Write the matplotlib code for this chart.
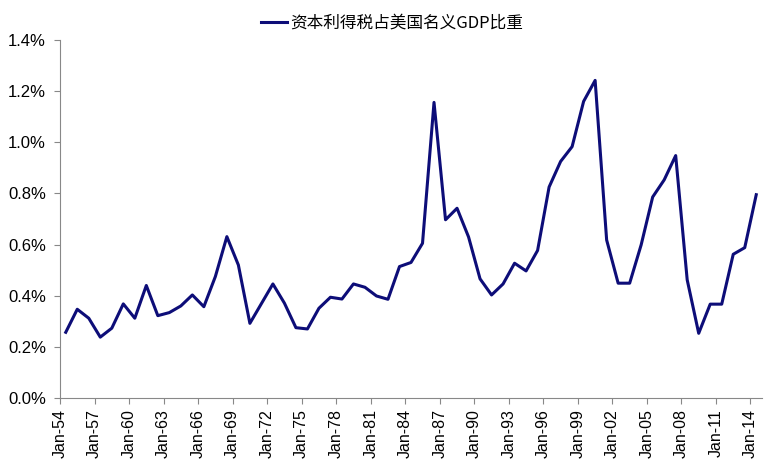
import numpy as np
import matplotlib.pyplot as plt
import matplotlib.ticker as mticker

plt.rcParams['font.family'] = ['Liberation Sans', 'Noto Sans CJK SC', 'DejaVu Sans']

# 年份 1954-2014 (数据点在年中)
years = np.arange(1954, 2015)
values = [0.257, 0.347, 0.312, 0.238, 0.273, 0.368, 0.312, 0.440, 0.322, 0.334,
          0.360, 0.403, 0.357, 0.475, 0.631, 0.520, 0.292, 0.369, 0.446, 0.371,
          0.275, 0.270, 0.351, 0.394, 0.387, 0.446, 0.433, 0.399, 0.386, 0.514,
          0.530, 0.605, 1.156, 0.697, 0.742, 0.630, 0.466, 0.403, 0.446, 0.527,
          0.497, 0.577, 0.825, 0.925, 0.983, 1.160, 1.242, 0.618, 0.449, 0.449,
          0.599, 0.786, 0.853, 0.948, 0.462, 0.253, 0.367, 0.367, 0.562, 0.588,
          0.795]
tick_years = np.arange(1954, 2015, 3)
tick_labels = ['Jan-%02d' % (y % 100) for y in tick_years]
series_name = '资本利得税占美国名义GDP比重'

fig = plt.figure(figsize=(7.84, 4.72), dpi=100)
ax = fig.add_axes([60/784, 1 - 398/472, 702/784, 358/472])

ax.plot(years + 0.5, values, color='#0d0d78', linewidth=2.2, label=series_name)

ax.set_xlim(1954, 2015)
ax.set_ylim(0, 1.4)
ax.set_xticks(tick_years)
ax.set_xticklabels(tick_labels, rotation=90, fontsize=11.5)
ax.yaxis.set_major_locator(mticker.MultipleLocator(0.2))
ax.yaxis.set_major_formatter(mticker.FuncFormatter(lambda v, p: '%.1f%%' % v))
ax.tick_params(axis='y', labelsize=12, length=4, direction='out', color='#888888', pad=6)
ax.tick_params(axis='x', length=4, direction='out', color='#888888', pad=4)

for side in ['top', 'right']:
    ax.spines[side].set_visible(False)
for side in ['left', 'bottom']:
    ax.spines[side].set_color('#888888')
    ax.spines[side].set_linewidth(0.8)

fig.legend(loc='upper center', bbox_to_anchor=(0.5, 1.0), frameon=False,
           prop={'family': ['Noto Sans CJK SC', 'DejaVu Sans'], 'size': 12},
           handlelength=1.6, handletextpad=0.2)

fig.savefig('out.png', dpi=100)
